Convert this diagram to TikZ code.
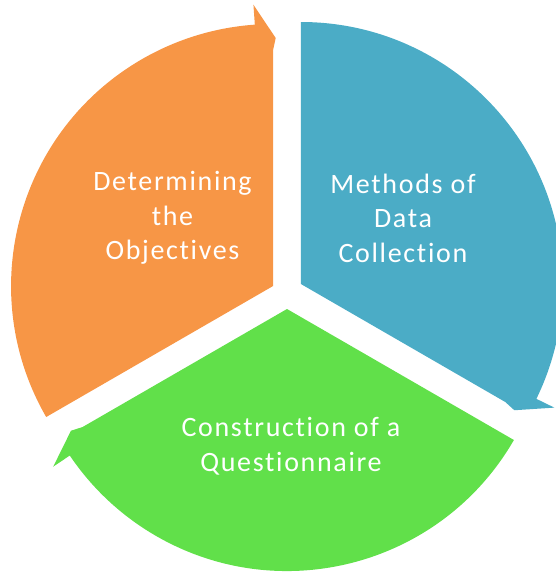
\documentclass[tikz,border=0pt]{standalone}
\usepackage{fontspec}
\setmainfont{Carlito}
\newfontfamily\segfont[LetterSpace=6,Ligatures=NoCommon]{Carlito}
\usetikzlibrary{positioning}

\definecolor{orangeseg}{HTML}{F79646}
\definecolor{blueseg}{HTML}{4BACC6}
\definecolor{greenseg}{HTML}{61E04A}

\tikzset{
    sector/.style={fill=#1, draw=none},
    steptext/.style={text=white, align=center, font=\segfont\fontsize{28}{34.5}\selectfont}
}

\begin{document}
\begin{tikzpicture}[x=1pt,y=1pt]
        \useasboundingbox (0,0) rectangle (556,-573);

        % three pie pieces, each ending in a half arrow head (clockwise)
        \foreach \cx/\cy/\s/\e/\col in {273.1/-286/210/90/orangeseg, 300.9/-284/90/-30/blueseg, 287/-309/-30/-150/greenseg}
        {
            \begin{scope}[shift={(\cx,\cy)}]
                \fill[sector=\col] (0,0) -- (\s:262) arc[start angle=\s, end angle=\e+4, radius=262]
                    -- (\e+4:282) -- (\e-0.6:248) -- (\e:236) -- cycle;
            \end{scope}
        }

        \node[steptext] (objectives) at (172.5,-218) {Determining\\the\\Objectives};
        \node[steptext] (methods) at (403,-218) {Methods of\\Data\\Collection};
        \node[steptext] (questionnaire) at (291,-446) {Construction of a\\Questionnaire};
\end{tikzpicture}
\end{document}
